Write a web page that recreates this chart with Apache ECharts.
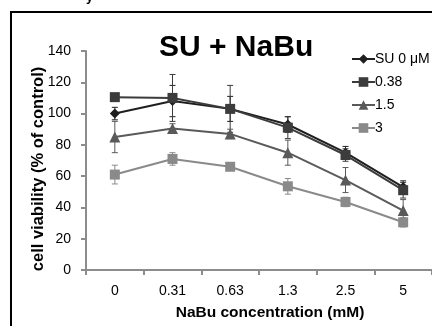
<!DOCTYPE html>
<html><head><meta charset="utf-8">
<script src="https://cdn.jsdelivr.net/npm/echarts@6/dist/echarts.min.js"></script>
<style>html,body{margin:0;padding:0;background:#fff}#c{width:432px;height:326px}</style>
</head><body><div id="c"></div>
<script>
var categories = ['0', '0.31', '0.63', '1.3', '2.5', '5'];
var seriesNames = ['SU 0 μM', '0.38', '1.5', '3'];
var su0 = [100, 108, 103, 93, 75, 53];
var su038 = [110.5, 110, 103, 91, 73.5, 51];
var su15 = [85, 90.5, 87, 75, 57.5, 38];
var su3 = [61, 71, 66, 53.5, 43.5, 30.5];
var err0 = [4, 10, 8, 5, 4, 4];
var err038 = [1, 15, 15, 7, 4, 5];
var err15 = [10, 3, 3, 8, 8, 7];
var err3 = [6, 4, 2, 5, 3, 3];
var yTicks = {min: 0, max: 140, interval: 20};

var colors = ['#1f1f1f', '#3c3c3c', '#5a5a5a', '#8a8a8a'];
var symbols = ['diamond', 'rect', 'triangle', 'rect'];
var symSizes = [10, 10, 11, 10];
var values = [su0, su038, su15, su3];
var errs = [err0, err038, err15, err3];

var chart = echarts.init(document.getElementById('c'), null, {renderer: 'canvas'});
var series = [];
values.forEach(function (v, i) {
  series.push({
    name: seriesNames[i], type: 'line', data: v,
    symbol: symbols[i], symbolSize: symSizes[i],
    lineStyle: {color: colors[i], width: 2},
    itemStyle: {color: colors[i]},
    z: 3
  });
});
values.forEach(function (v, i) {
  var d = v.map(function (val, j) { return [j, val - errs[i][j], val + errs[i][j]]; });
  series.push({
    type: 'custom', name: seriesNames[i], data: d, z: 2,
    renderItem: function (params, api) {
      var x = api.value(0);
      var lo = api.coord([x, api.value(1)]);
      var hi = api.coord([x, api.value(2)]);
      var w = 3;
      var st = {stroke: colors[i], lineWidth: 1};
      return {type: 'group', children: [
        {type: 'line', shape: {x1: lo[0], y1: lo[1], x2: hi[0], y2: hi[1]}, style: st},
        {type: 'line', shape: {x1: lo[0] - w, y1: lo[1], x2: lo[0] + w, y2: lo[1]}, style: st},
        {type: 'line', shape: {x1: hi[0] - w, y1: hi[1], x2: hi[0] + w, y2: hi[1]}, style: st}
      ]};
    },
    encode: {x: 0, y: [1, 2]}
  });
});

chart.setOption({
  animation: false,
  backgroundColor: '#fff',
  textStyle: {fontFamily: 'Liberation Sans'},
  graphic: [
    {type: 'rect', shape: {x: 11, y: 12, width: 440, height: 340}, style: {fill: 'none', stroke: '#000', lineWidth: 2}, z: 10},
    {type: 'text', left: 159, top: 33, style: {text: 'SU + NaBu', font: 'bold 30px "Liberation Sans"', fill: '#000'}},
    {type: 'text', left: 86, top: -9, style: {text: 'y', font: 'bold 13px "Liberation Sans"', fill: '#000'}},
    {type: 'text', x: 38.5, y: 169, rotation: Math.PI / 2,
     style: {text: 'cell viability (% of control)', font: 'bold 16.5px "Liberation Sans"', fill: '#000', align: 'center', verticalAlign: 'middle'}}
  ],
  legend: {
    orient: 'vertical', left: 346, top: 47,
    itemWidth: 23, itemHeight: 12, itemGap: 9,
    data: seriesNames,
    textStyle: {fontSize: 14, color: '#000', padding: [0, 0, 0, -5]}
  },
  grid: {left: 86, right: -1, top: 51, bottom: 51},
  xAxis: {
    type: 'category', data: categories, boundaryGap: true,
    axisLine: {lineStyle: {color: '#8c8c8c', width: 2}},
    axisTick: {show: true, length: 5, lineStyle: {color: '#8c8c8c', width: 2}},
    axisLabel: {color: '#000', fontSize: 14, margin: 14},
    name: 'NaBu concentration (mM)', nameLocation: 'middle', nameGap: 35,
    nameTextStyle: {fontSize: 15.5, fontWeight: 'bold', color: '#000', padding: [0, 0, 0, 22]}
  },
  yAxis: {
    type: 'value', min: yTicks.min, max: yTicks.max, interval: yTicks.interval,
    splitLine: {show: false},
    axisLine: {show: true, lineStyle: {color: '#8c8c8c', width: 2}},
    axisTick: {show: true, length: 5, lineStyle: {color: '#8c8c8c', width: 2}},
    axisLabel: {color: '#000', fontSize: 14, margin: 15}
  },
  series: series
});
</script></body></html>
